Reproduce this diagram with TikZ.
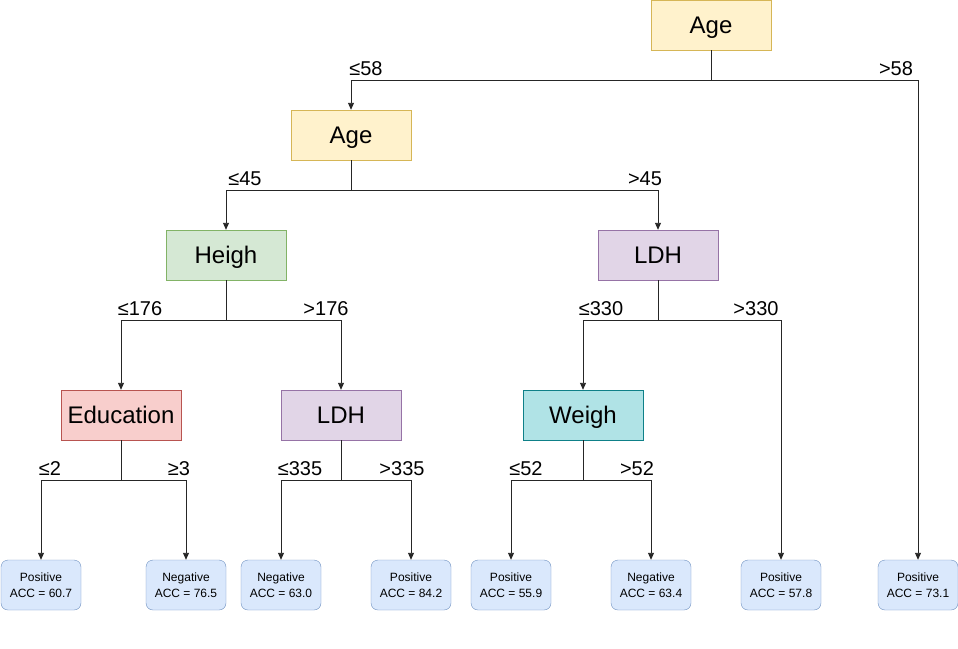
\documentclass[tikz,border=0pt]{standalone}
\usepackage{fontspec}
\setmainfont{Liberation Sans}
\usetikzlibrary{arrows.meta}
\definecolor{yfill}{HTML}{FFF2CC}\definecolor{ydraw}{HTML}{D6B656}
\definecolor{gfill}{HTML}{D5E8D4}\definecolor{gdraw}{HTML}{82B366}
\definecolor{pfill}{HTML}{E1D5E7}\definecolor{pdraw}{HTML}{9673A6}
\definecolor{rfill}{HTML}{F8CECC}\definecolor{rdraw}{HTML}{B85450}
\definecolor{bfill}{HTML}{DAE8FC}\definecolor{bdraw}{HTML}{6C8EBF}
\definecolor{tfill}{HTML}{B0E3E6}\definecolor{tdraw}{HTML}{0E8088}
\tikzset{
  x=1pt,y=-1pt,
  inner/.style={draw,minimum width=120pt,minimum height=50pt,inner sep=0pt,text height=17pt,text depth=0pt,font=\fontsize{24}{28}\selectfont},
  yel/.style={inner,fill=yfill,draw=ydraw},
  grn/.style={inner,fill=gfill,draw=gdraw},
  pur/.style={inner,fill=pfill,draw=pdraw},
  red/.style={inner,fill=rfill,draw=rdraw},
  teal/.style={inner,fill=tfill,draw=tdraw},
  leaf/.style={draw=bdraw,fill=bfill,rounded corners=7pt,minimum width=80pt,minimum height=50pt,inner sep=0pt,align=center,font=\fontsize{12}{16}\selectfont},
  lab/.style={inner sep=0pt,font=\fontsize{20}{22}\selectfont},
  edge/.style={draw=black!85,line width=0.9pt,-{Triangle[length=7pt,width=6pt]}}
}
\begin{document}
\begin{tikzpicture}
\useasboundingbox (0,0) rectangle (958,648);
\node[yel] (age1) at (711,25) {Age};
\node[yel] (age2) at (351,135) {Age};
\node[grn] (heigh) at (226,255) {Heigh};
\node[pur] (ldh1) at (658,255) {LDH};
\node[red] (edu) at (121,415) {Education};
\node[pur] (ldh2) at (341,415) {LDH};
\node[teal] (weigh) at (583,415) {Weigh};
\node[leaf] (l1) at (41,585) {Positive\\ACC = 60.7};
\node[leaf] (l2) at (186,585) {Negative\\ACC = 76.5};
\node[leaf] (l3) at (281,585) {Negative\\ACC = 63.0};
\node[leaf] (l4) at (411,585) {Positive\\ACC = 84.2};
\node[leaf] (l5) at (511,585) {Positive\\ACC = 55.9};
\node[leaf] (l6) at (651,585) {Negative\\ACC = 63.4};
\node[leaf] (l7) at (781,585) {Positive\\ACC = 57.8};
\node[leaf] (l8) at (918,585) {Positive\\ACC = 73.1};
% edges
\draw[edge] (age1.south) |- ++(0,30) -| (age2.north);
\draw[edge] (age1.south) |- ++(0,30) -| (l8.north);
\draw[edge] (age2.south) |- ++(0,30) -| (heigh.north);
\draw[edge] (age2.south) |- ++(0,30) -| (ldh1.north);
\draw[edge] (heigh.south) |- ++(0,40) -| (edu.north);
\draw[edge] (heigh.south) |- ++(0,40) -| (ldh2.north);
\draw[edge] (ldh1.south) |- ++(0,40) -| (weigh.north);
\draw[edge] (ldh1.south) |- ++(0,40) -| (l7.north);
\draw[edge] (edu.south) |- ++(0,40) -| (l1.north);
\draw[edge] (edu.south) |- ++(0,40) -| (l2.north);
\draw[edge] (ldh2.south) |- ++(0,40) -| (l3.north);
\draw[edge] (ldh2.south) |- ++(0,40) -| (l4.north);
\draw[edge] (weigh.south) |- ++(0,40) -| (l5.north);
\draw[edge] (weigh.south) |- ++(0,40) -| (l6.north);
% labels
\node[lab] (t1) at (366,69) {≤58};
\node[lab] (t2) at (896,69) {>58};
\node[lab] (t3) at (245,179) {≤45};
\node[lab] (t4) at (645,179) {>45};
\node[lab] (t5) at (140,309) {≤176};
\node[lab] (t6) at (326,309) {>176};
\node[lab] (t7) at (601,309) {≤330};
\node[lab] (t8) at (756,309) {>330};
\node[lab] (t9) at (50,469) {≤2};
\node[lab] (t10) at (179,469) {≥3};
\node[lab] (t11) at (300,469) {≤335};
\node[lab] (t12) at (402,469) {>335};
\node[lab] (t13) at (526,469) {≤52};
\node[lab] (t14) at (637,469) {>52};
\end{tikzpicture}
\end{document}
